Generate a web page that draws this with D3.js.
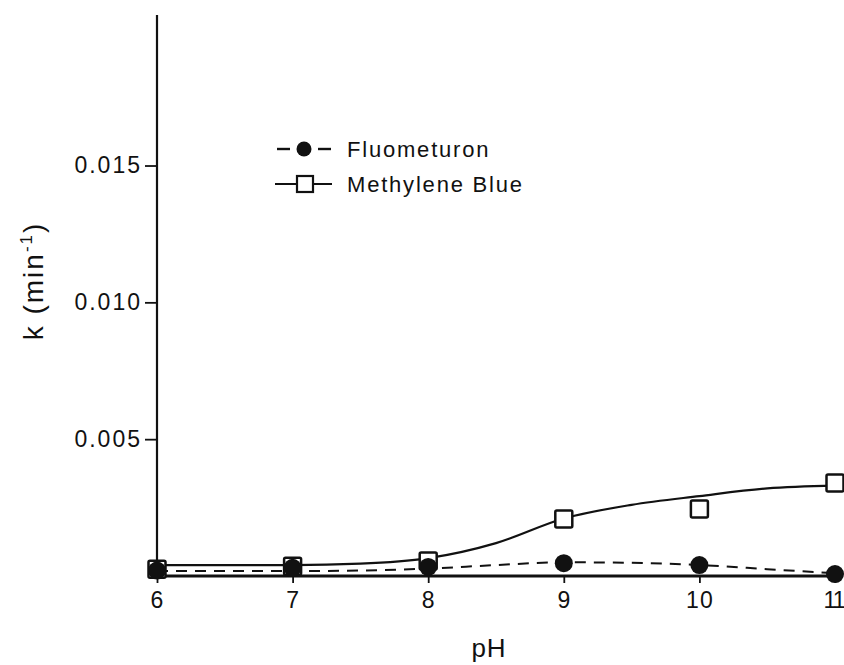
<!DOCTYPE html>
<html>
<head>
<meta charset="utf-8">
<script src="https://cdn.jsdelivr.net/npm/d3@7"></script>
<style>
  html, body { margin: 0; padding: 0; background: #fff; }
  svg { display: block; }
  text { font-family: "Liberation Sans", Arial, Helvetica, sans-serif; fill: #111; }
</style>
</head>
<body>
<svg id="chart" width="844" height="665"></svg>
<script>
// Measured rate constants k (min^-1) versus pH
const pH = [6, 7, 8, 9, 10, 11];
const fluometuron = [0.0002, 0.0003, 0.00033, 0.00047, 0.0004, 0.00007];
const methyleneBlue = [0.00025, 0.00036, 0.00055, 0.00208, 0.00245, 0.0034];

// Smoothed trend curves drawn through the data
const curvePH = [6, 7, 7.5, 8, 8.5, 9, 9.5, 10, 10.5, 11];
const fluometuronCurve = [0.00018, 0.00018, 0.0002, 0.00027, 0.0004, 0.0005, 0.00048, 0.0004, 0.00025, 0.0001];
const methyleneBlueCurve = [0.0004, 0.0004, 0.00045, 0.00065, 0.0012, 0.0021, 0.0026, 0.00292, 0.0032, 0.0033];

const xTicks = [6, 7, 8, 9, 10, 11];
const yTicks = [0.005, 0.010, 0.015];
const yTickLabels = ["0.005", "0.010", "0.015"];

const svg = d3.select("#chart");

const x = d3.scaleLinear().domain([6, 11]).range([157, 835]);
const y = d3.scaleLinear().domain([0, 0.0205]).range([576, 15]);

// Axes
const xAxis = d3.axisBottom(x).tickValues(xTicks).tickSize(7).tickPadding(9)
  .tickFormat(d3.format("d"));
const gx = svg.append("g").attr("transform", `translate(0,${y(0)})`).call(xAxis);
gx.select(".domain").remove();
gx.selectAll(".tick line").attr("stroke", "#111").attr("stroke-width", 1.8);
gx.selectAll(".tick text")
  .attr("font-size", 23).attr("fill", "#111")
  .attr("letter-spacing", d => d === 11 ? -2 : 1)
  .attr("dx", d => d === 11 ? -2 : 0);
svg.append("line")
  .attr("x1", x(6)).attr("x2", 840)
  .attr("y1", y(0)).attr("y2", y(0))
  .attr("stroke", "#111").attr("stroke-width", 2.8);

const yAxis = d3.axisLeft(y).tickValues(yTicks).tickSize(12).tickPadding(3)
  .tickFormat((d, i) => yTickLabels[i]);
const gy = svg.append("g").attr("transform", `translate(${x(6)},0)`).call(yAxis);
gy.select(".domain").remove();
gy.selectAll(".tick line").attr("stroke", "#111").attr("stroke-width", 1.8);
gy.selectAll(".tick text").attr("font-size", 23).attr("fill", "#111")
  .attr("letter-spacing", 2);
svg.append("line")
  .attr("x1", x(6)).attr("x2", x(6))
  .attr("y1", y(0.0205)).attr("y2", y(0))
  .attr("stroke", "#111").attr("stroke-width", 2.2);

// Axis titles
svg.append("text")
  .attr("x", 489).attr("y", 657)
  .attr("text-anchor", "middle").attr("font-size", 26)
  .attr("letter-spacing", 1)
  .text("pH");

const yl = svg.append("text")
  .attr("transform", "translate(43,281) rotate(-90)")
  .attr("text-anchor", "middle").attr("font-size", 28)
  .attr("letter-spacing", 2);
yl.append("tspan").text("k (min");
yl.append("tspan").attr("dy", -11).attr("font-size", 17).text("-1");
yl.append("tspan").attr("dy", 11).text(")");

// Trend curves
const line = d3.line()
  .x(d => x(d[0]))
  .y(d => y(d[1]))
  .curve(d3.curveMonotoneX);

svg.append("path")
  .datum(curvePH.map((p, i) => [p, methyleneBlueCurve[i]]))
  .attr("d", line)
  .attr("fill", "none").attr("stroke", "#111").attr("stroke-width", 2.2);

svg.append("path")
  .datum(curvePH.map((p, i) => [p, fluometuronCurve[i]]))
  .attr("d", line)
  .attr("fill", "none").attr("stroke", "#111").attr("stroke-width", 2)
  .attr("stroke-dasharray", "11,8");

// Markers
const sq = 17;
svg.selectAll("rect.mb")
  .data(pH.map((p, i) => [p, methyleneBlue[i]]))
  .join("rect")
  .attr("class", "mb")
  .attr("x", d => x(d[0]) - sq / 2)
  .attr("y", d => y(d[1]) - sq / 2)
  .attr("width", sq).attr("height", sq)
  .attr("rx", 1.5)
  .attr("fill", "#fff").attr("stroke", "#111").attr("stroke-width", 2.5);

svg.selectAll("circle.fl")
  .data(pH.map((p, i) => [p, fluometuron[i]]))
  .join("circle")
  .attr("class", "fl")
  .attr("cx", d => x(d[0]))
  .attr("cy", d => y(d[1]))
  .attr("r", 9)
  .attr("fill", "#111");

// Legend
const lg = svg.append("g");
lg.append("line").attr("x1", 277).attr("x2", 290).attr("y1", 149).attr("y2", 149)
  .attr("stroke", "#111").attr("stroke-width", 2.4);
lg.append("line").attr("x1", 318).attr("x2", 331).attr("y1", 149).attr("y2", 149)
  .attr("stroke", "#111").attr("stroke-width", 2.4);
lg.append("circle").attr("cx", 304).attr("cy", 149).attr("r", 7.5).attr("fill", "#111");
lg.append("text").attr("x", 347).attr("y", 157).attr("font-size", 22)
  .attr("letter-spacing", 1.8).text("Fluometuron");

lg.append("line").attr("x1", 275).attr("x2", 332).attr("y1", 184).attr("y2", 184)
  .attr("stroke", "#111").attr("stroke-width", 2);
lg.append("rect").attr("x", 297).attr("y", 176).attr("width", 16).attr("height", 16)
  .attr("fill", "#fff").attr("stroke", "#111").attr("stroke-width", 2.2);
lg.append("text").attr("x", 347).attr("y", 192).attr("font-size", 22)
  .attr("letter-spacing", 1.8).text("Methylene Blue");
</script>
</body>
</html>
